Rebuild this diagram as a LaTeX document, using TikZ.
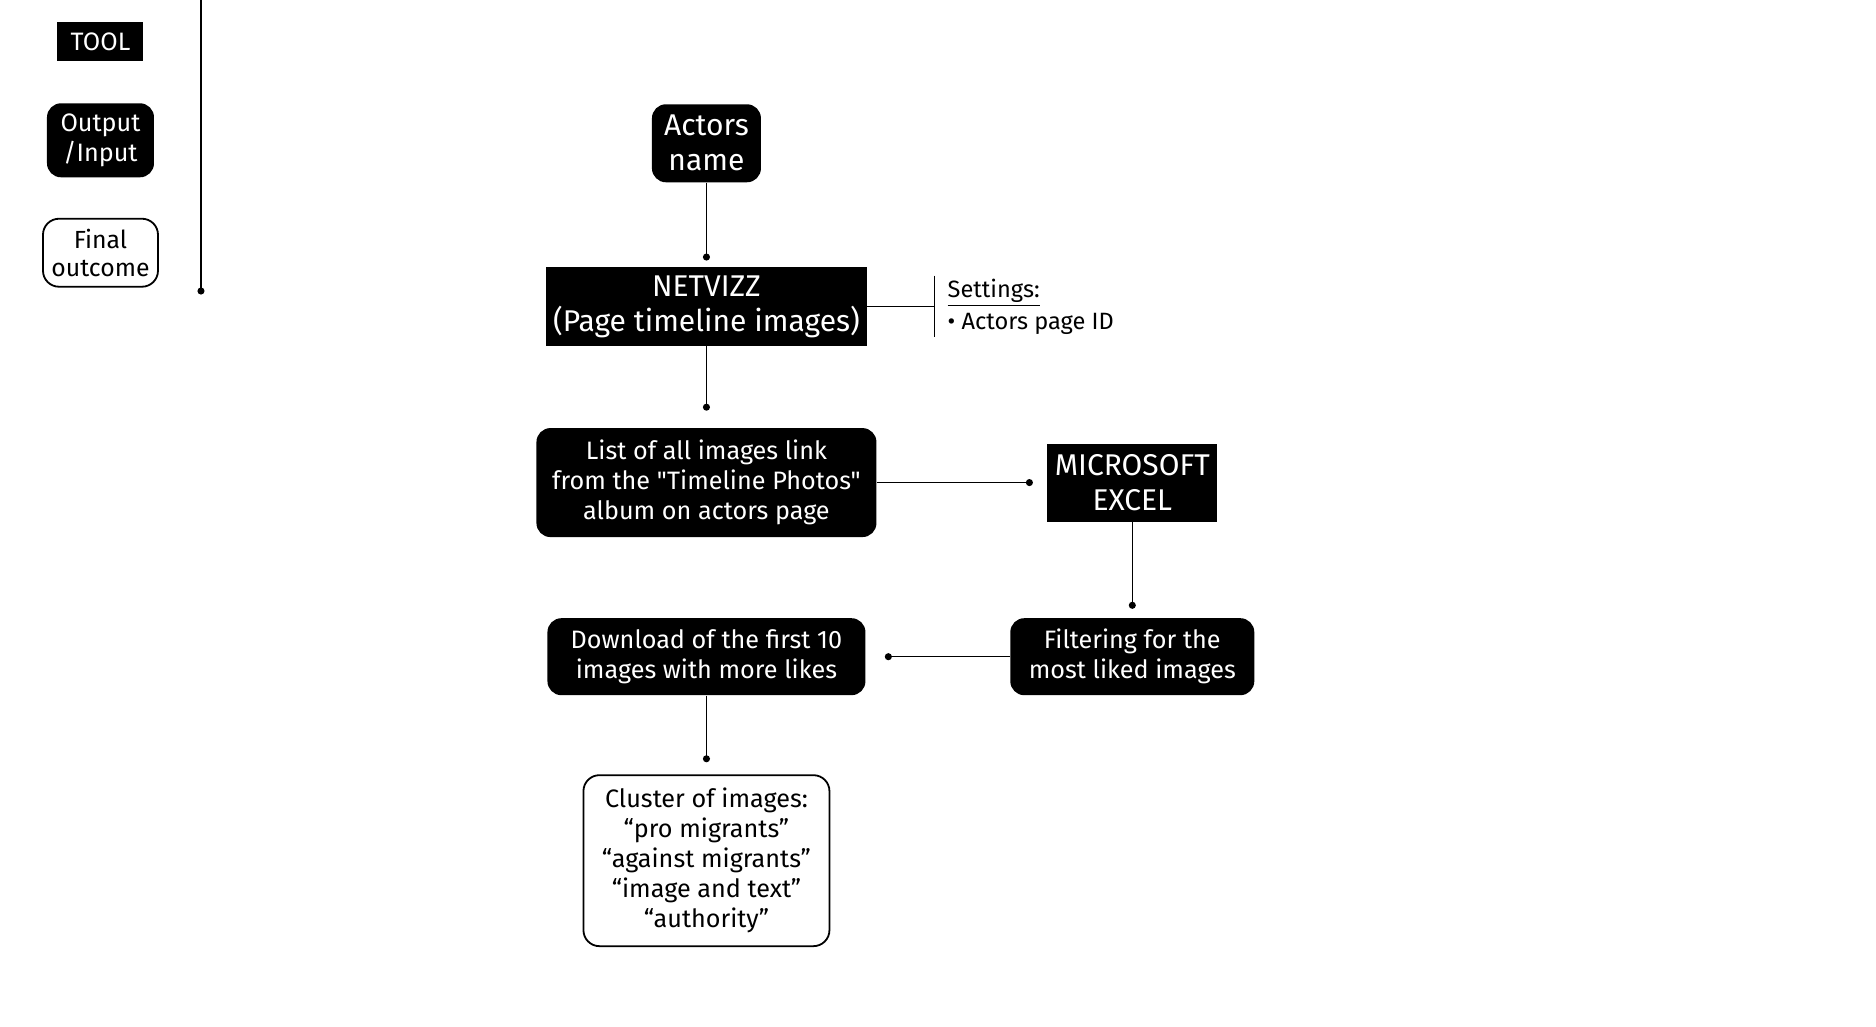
\documentclass[tikz,border=0pt]{standalone}
\usepackage{fontspec}
\setmainfont{Fira Sans}[Ligatures=TeXOff]
\usetikzlibrary{arrows.meta}

\tikzstyle{box}=[inner sep=0pt, align=center, font=\fontsize{12.6}{15}\selectfont]
\tikzstyle{tool}=[box, fill=black, text=white]
\tikzstyle{io}=[tool, rounded corners=7pt]
\tikzstyle{final}=[box, draw=black, line width=0.9pt, rounded corners=8pt]
\tikzstyle{big}=[font=\fontsize{15}{17.5}\selectfont]
\tikzstyle{link}=[line width=0.7pt, -{Circle[length=3.5pt]}]
\tikzstyle{plain}=[line width=0.7pt]

\begin{document}
\begin{tikzpicture}[x=0.4975pt, y=-0.4975pt]
  \useasboundingbox (0pt,0pt) rectangle (938pt,-513.5pt);

  % legend
  \node[tool, minimum width=43pt, minimum height=19.5pt]  (legtool)  at (101, 42)  {TOOL};
  \node[io, minimum width=53.5pt, minimum height=37pt]    (legio)    at (101, 141) {Output\\/Input};
  \node[final, minimum width=57.5pt, minimum height=34pt, font=\fontsize{12.4}{13.8}\selectfont] (legfinal) at (101, 254) {Final\\outcome};
  \coordinate (legtop) at (202, 0);
  \coordinate (legbot) at (202, 296);
  \draw[link] (legtop) -- (legbot);

  % flow
  \node[io, big, minimum width=54.5pt, minimum height=39pt]   (actors)   at (710, 144)  {Actors\\name};
  \node[tool, big, minimum width=160.5pt, minimum height=39.5pt] (netvizz) at (710, 308) {NETVIZZ\\(Page timeline images)};
  \node[io, minimum width=170pt, minimum height=54.5pt]       (list)     at (710, 485)  {List of all images link\\from the "Timeline Photos"\\album on actors page};
  \node[tool, big, minimum width=85pt, minimum height=39pt]   (excel)    at (1138, 485) {MICROSOFT\\EXCEL};
  \node[io, minimum width=122pt, minimum height=38.5pt]       (filter)   at (1138, 660) {Filtering for the\\most liked images};
  \node[io, minimum width=159pt, minimum height=38.5pt]       (download) at (710, 660)  {Download of the first 10\\images with more likes};
  \node[final, minimum width=123pt, minimum height=85.5pt]    (cluster)  at (710, 865)  {Cluster of images:\\“pro migrants”\\“against migrants”\\“image and text”\\“authority”};

  % settings
  \coordinate (brtop) at (939, 277);
  \coordinate (brbot) at (939, 339);
  \draw[plain] (brtop) -- (brbot);
  \draw[plain] (netvizz.east) -- (netvizz.east -| brtop);
  \node[box, anchor=west, align=left, font=\fontsize{11.8}{16}\selectfont] (settings) at (952, 308) {\underline{Settings:}\\• Actors page ID};

  \draw[link, shorten >=3pt]    (actors)   -- (netvizz);
  \draw[link, shorten >=8.5pt]  (netvizz)  -- (list);
  \draw[link, shorten >=7pt]    (list)     -- (excel);
  \draw[link, shorten >=4.5pt]  (excel)    -- (filter);
  \draw[link, shorten >=9.5pt]  (filter)   -- (download);
  \draw[link, shorten >=6pt]    (download) -- (cluster);
\end{tikzpicture}
\end{document}
